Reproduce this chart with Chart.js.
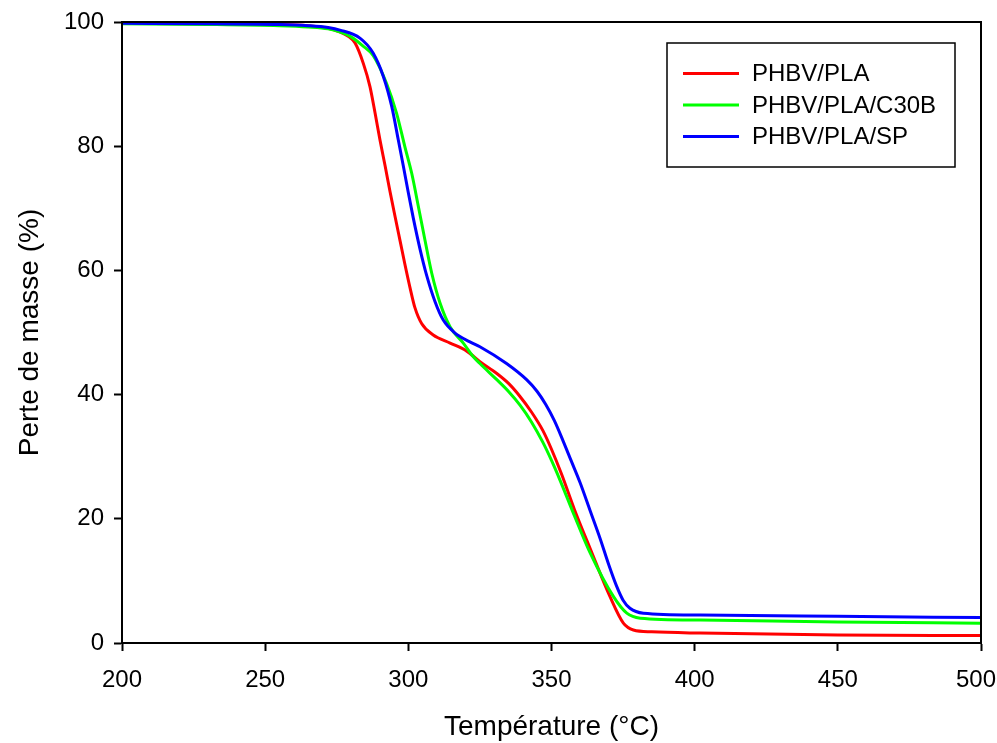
<!DOCTYPE html>
<html lang="fr">
<head>
<meta charset="utf-8">
<title>Perte de masse (ATG)</title>
<script src="https://cdn.jsdelivr.net/npm/chart.js@4.4.1/dist/chart.umd.min.js"></script>
<style>
  html, body { margin: 0; padding: 0; background: #ffffff; }
  #wrap { position: relative; width: 997px; height: 743px; }
  canvas { display: block; }
</style>
</head>
<body>
<div id="wrap"><canvas id="atg" width="997" height="743"></canvas></div>
<script>
// Series labels
const seriesNames = ['PHBV/PLA', 'PHBV/PLA/C30B', 'PHBV/PLA/SP'];
const seriesColors = ['#ff0000', '#00ff00', '#0000ff'];

// Axis ticks
const xTicks = [200, 250, 300, 350, 400, 450, 500];
const yTicks = [0, 20, 40, 60, 80, 100];

// PHBV/PLA : température (°C) / masse (%)
const tempPLA = [200, 230, 255, 265, 272, 276, 279, 281.4, 284.3, 286.6, 288.4, 290.1, 291.9, 293.6, 295.4, 297.1, 298.8, 300.6, 302.3, 304.7, 308.7, 314.6, 320.4, 325, 330.9, 335, 339, 343, 347, 350, 353.5, 358, 363.5, 370.4, 375.1, 378.6, 385, 401.9, 450, 500];
const massPLA = [99.8, 99.7, 99.6, 99.4, 99.0, 98.4, 97.7, 96.6, 93.3, 89.6, 85.3, 81.0, 76.8, 72.7, 68.6, 64.8, 61.0, 57.2, 54.0, 51.4, 49.6, 48.3, 47.0, 45.3, 43.4, 41.8, 39.7, 37.2, 34.2, 31.2, 27.2, 21.5, 15.2, 7.5, 3.2, 2.1, 1.8, 1.6, 1.3, 1.2];

// PHBV/PLA/C30B
const tempC30B = [200, 230, 255, 265, 272, 276, 280, 284, 287.7, 292.4, 295.9, 298.8, 301.2, 303.5, 305.8, 308.2, 311.1, 314.6, 319.2, 322.7, 325, 330.9, 335, 339, 343, 347, 350, 353, 358, 363.5, 371.6, 376.3, 381, 402, 450, 500];
const massC30B = [99.7, 99.6, 99.4, 99.2, 98.9, 98.4, 97.6, 96.2, 94.6, 90.1, 85.3, 79.9, 75.6, 70.3, 64.9, 59.5, 54.7, 50.9, 48.3, 46.1, 45.0, 42.4, 40.5, 38.3, 35.6, 32.3, 29.4, 26.2, 20.5, 14.5, 7.5, 4.8, 4.0, 3.7, 3.4, 3.2];

// PHBV/PLA/SP
const tempSP = [200, 230, 255, 265, 272, 276.1, 283.1, 287.7, 291.3, 294.2, 296.5, 298.3, 300, 301.7, 304.1, 306.4, 309.3, 312.2, 316.3, 321.5, 325, 334.3, 341.3, 345, 348, 351, 354, 357, 360, 363.5, 367, 370, 372.7, 375, 377.4, 382.1, 401.9, 450, 500];
const massSP = [99.8, 99.7, 99.6, 99.4, 99.1, 98.7, 97.4, 95.0, 91.2, 86.4, 81.0, 76.7, 72.5, 68.5, 63.4, 59.2, 55.0, 52.0, 49.9, 48.5, 47.7, 45.0, 42.4, 40.5, 38.4, 35.8, 32.6, 29.2, 25.8, 21.3, 16.8, 12.6, 9.2, 6.9, 5.6, 4.8, 4.5, 4.3, 4.1];

const toPoints = (xs, ys) => xs.map((x, i) => ({ x: x, y: ys[i] }));
const allTemps = [tempPLA, tempC30B, tempSP];
const allMass = [massPLA, massC30B, massSP];

const FONT = "'Liberation Sans', Arial, sans-serif";

// Box around the plot area (top and right edges included)
const frame = {
  id: 'frame',
  afterDatasetsDraw(chart) {
    const { ctx, chartArea: a } = chart;
    ctx.save();
    ctx.strokeStyle = '#000';
    ctx.lineWidth = 2;
    ctx.strokeRect(a.left, a.top, a.right - a.left, a.bottom - a.top);
    ctx.restore();
  }
};

// Temperature tick labels, kept inside the canvas at the right edge
const xLabels = {
  id: 'xLabels',
  afterDraw(chart) {
    const { ctx } = chart;
    const sx = chart.scales.x;
    const W = chart.width;
    ctx.save();
    ctx.font = '24px ' + FONT;
    ctx.fillStyle = '#000';
    ctx.textAlign = 'left';
    ctx.textBaseline = 'alphabetic';
    xTicks.forEach(v => {
      const txt = String(v);
      const w = ctx.measureText(txt).width;
      let left = sx.getPixelForValue(v) - w / 2;
      if (left + w > W - 1) left = W - 1 - w;
      ctx.fillText(txt, left, sx.top + 44);
    });
    ctx.restore();
  }
};

// Boxed legend in the upper-right corner of the plot
const boxLegend = {
  id: 'boxLegend',
  afterDraw(chart) {
    const { ctx } = chart;
    const x0 = 667, y0 = 43, w = 288, h = 124;
    ctx.save();
    ctx.fillStyle = '#fff';
    ctx.fillRect(x0, y0, w, h);
    ctx.strokeStyle = '#000';
    ctx.lineWidth = 1.5;
    ctx.strokeRect(x0, y0, w, h);
    ctx.font = '24px ' + FONT;
    ctx.textBaseline = 'middle';
    ctx.textAlign = 'left';
    chart.data.datasets.forEach((ds, i) => {
      const y = 73.5 + i * 31.5;
      ctx.strokeStyle = ds.borderColor;
      ctx.lineWidth = 3;
      ctx.beginPath();
      ctx.moveTo(683, y);
      ctx.lineTo(739, y);
      ctx.stroke();
      ctx.fillStyle = '#000';
      ctx.fillText(ds.label, 752, y + 1);
    });
    ctx.restore();
  }
};

new Chart(document.getElementById('atg'), {
  type: 'line',
  data: {
    datasets: seriesNames.map((name, i) => ({
      label: name,
      data: toPoints(allTemps[i], allMass[i]),
      borderColor: seriesColors[i],
      backgroundColor: seriesColors[i],
      borderWidth: 3,
      pointRadius: 0,
      fill: false,
      cubicInterpolationMode: 'monotone',
      order: 3 - i
    }))
  },
  options: {
    responsive: false,
    animation: false,
    devicePixelRatio: 1,
    layout: { padding: { top: 22, right: 16, left: 0, bottom: 0 } },
    plugins: {
      legend: { display: false },
      tooltip: { enabled: false }
    },
    scales: {
      x: {
        type: 'linear',
        min: 200,
        max: 500,
        afterBuildTicks: (s) => { s.ticks = xTicks.map(v => ({ value: v })); },
        afterFit: (s) => { s.height = 100; s.paddingLeft = 0; s.paddingRight = 0; },
        grid: { display: true, drawOnChartArea: false, drawTicks: true, tickLength: 8, tickWidth: 2, tickColor: '#000' },
        border: { display: true, color: '#000', width: 2 },
        ticks: { display: false },
        title: { display: true, text: 'Température (°C)', color: '#000', font: { family: FONT, size: 28, lineHeight: 1.1 }, padding: { top: 0, bottom: 0 } }
      },
      y: {
        type: 'linear',
        min: 0,
        max: 100,
        afterBuildTicks: (s) => { s.ticks = yTicks.map(v => ({ value: v })); },
        afterFit: (s) => { s.width = 122; s.paddingTop = 0; s.paddingBottom = 0; },
        grid: { display: true, drawOnChartArea: false, drawTicks: true, tickLength: 8, tickWidth: 2, tickColor: '#000' },
        border: { display: true, color: '#000', width: 2 },
        ticks: { color: '#000', font: { family: FONT, size: 24 }, padding: 10 },
        title: { display: true, text: 'Perte de masse (%)', color: '#000', font: { family: FONT, size: 28 }, padding: { top: 13, bottom: 0 } }
      }
    }
  },
  plugins: [frame, xLabels, boxLegend]
});
</script>
</body>
</html>
